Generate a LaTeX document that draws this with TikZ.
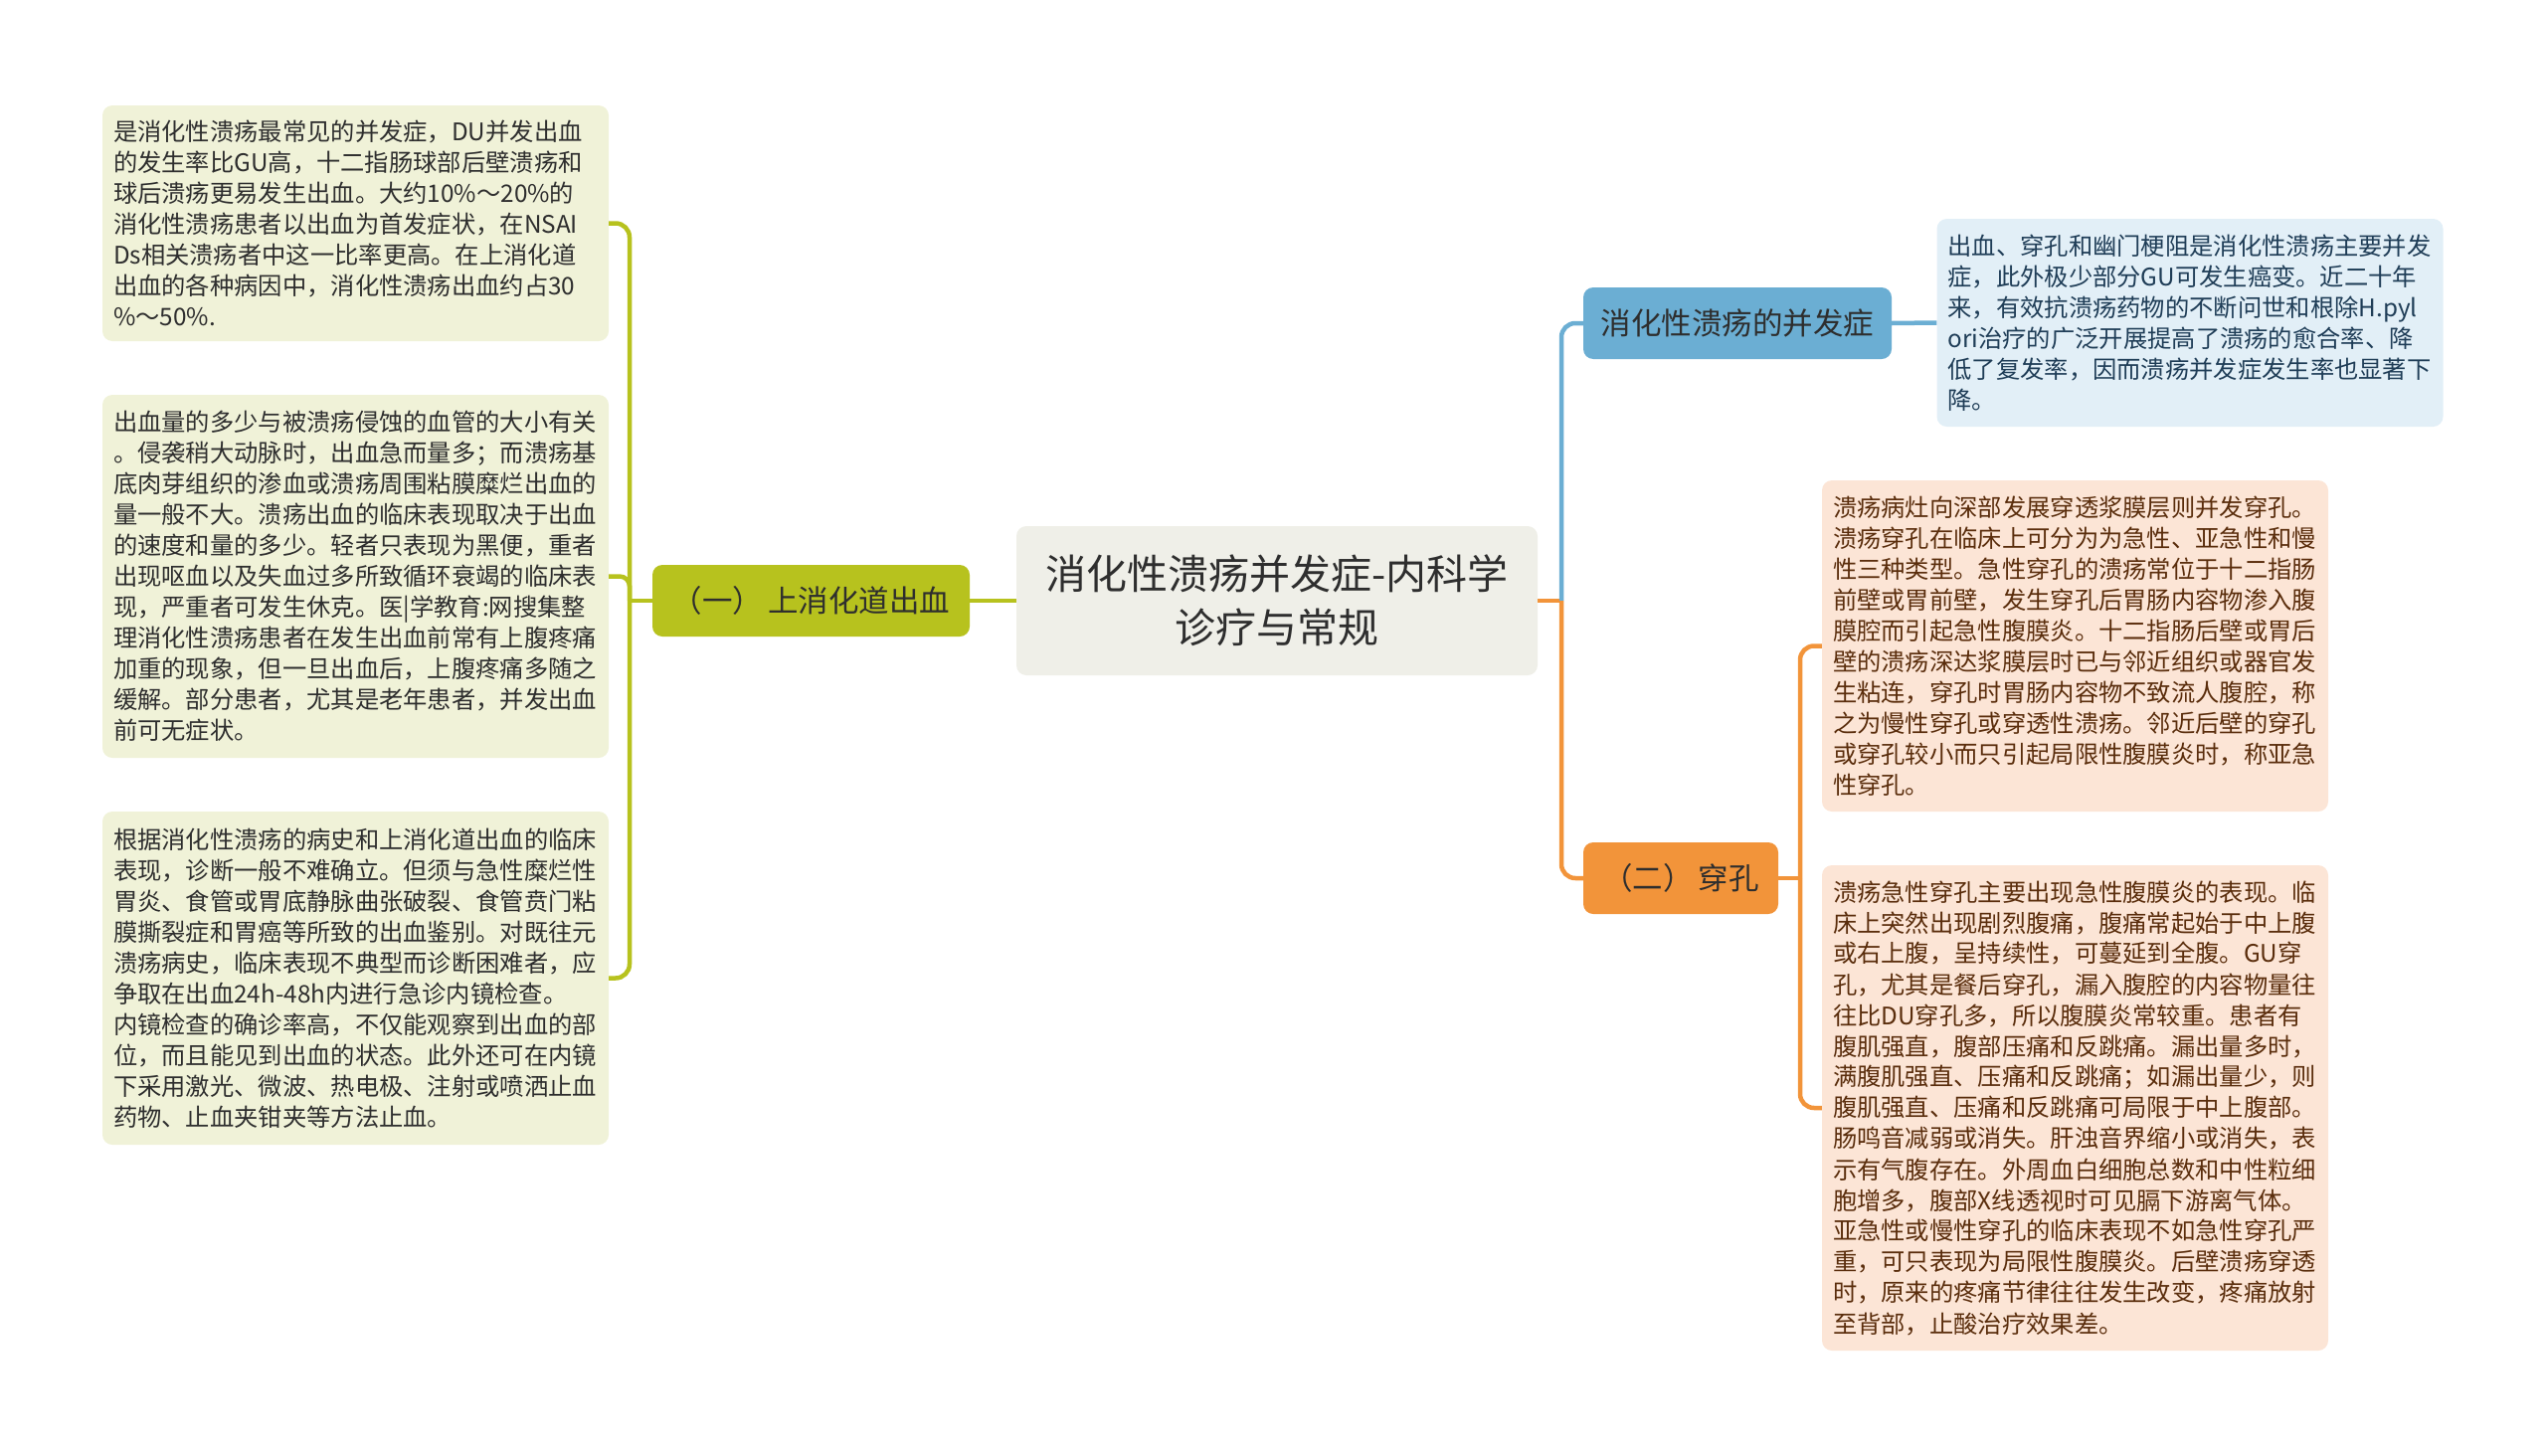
\documentclass[tikz,border=0pt]{standalone}
\usepackage{fontspec}
\setmainfont{Noto Sans CJK SC}
\definecolor{cOlive}{HTML}{B7C21E}
\definecolor{cOliveLeaf}{HTML}{F0F2D8}
\definecolor{cBlue}{HTML}{6BAED3}
\definecolor{cBlueLeaf}{HTML}{E2EFF7}
\definecolor{cBlueText}{HTML}{1F3D57}
\definecolor{cOrange}{HTML}{F2943A}
\definecolor{cOrangeLeaf}{HTML}{FCE5D6}
\definecolor{cOrangeText}{HTML}{5A2D0C}
\definecolor{cRoot}{HTML}{EFEFE8}
\definecolor{cText}{HTML}{2E2E2E}
\tikzset{
  leafbox/.style={rounded corners=10pt, inner xsep=11pt, inner ysep=0pt, text width=487pt,
    align=left, font=\fontsize{24.3pt}{31pt}\selectfont, anchor=center},
  topicbox/.style={rounded corners=10pt, inner xsep=4pt, inner ysep=0pt, minimum height=72pt,
    align=center, font=\fontsize{30.5pt}{36pt}\selectfont, text=cText, anchor=center},
  rootbox/.style={rounded corners=10pt, fill=cRoot, minimum width=524pt, minimum height=150pt,
    align=center, font=\fontsize{41pt}{54pt}\selectfont, text=cText, anchor=center},
  link/.style={line width=4.5pt},
  olivelink/.style={link, draw=cOlive},
  bluelink/.style={link, draw=cBlue},
  orangelink/.style={link, draw=cOrange},
}
\begin{document}
\begin{tikzpicture}[x=1pt,y=-1pt]
\useasboundingbox (0,0) rectangle (2560,1464);

% root
\node[rootbox] (root) at (1284,604) {消化性溃疡并发症-内科学\\诊疗与常规};

% left branch
\node[topicbox, fill=cOlive, minimum width=319pt] (t1) at (815.5,604) {（一）\,上消化道出血};

\node[leafbox, fill=cOliveLeaf, text=cText, minimum height=237pt] (l1) at (357.5,224.5) {是消化性溃疡最常见的并发症，DU并发出血\\的发生率比GU高，十二指肠球部后壁溃疡和\\球后溃疡更易发生出血。大约10\%～20\%的\\消化性溃疡患者以出血为首发症状，在NSAI\\Ds相关溃疡者中这一比率更高。在上消化道\\出血的各种病因中，消化性溃疡出血约占30\\\%～50\%.};

\node[leafbox, fill=cOliveLeaf, text=cText, minimum height=365pt] (l2) at (357.5,579.5) {出血量的多少与被溃疡侵蚀的血管的大小有关\\。侵袭稍大动脉时，出血急而量多；而溃疡基\\底肉芽组织的渗血或溃疡周围粘膜糜烂出血的\\量一般不大。溃疡出血的临床表现取决于出血\\的速度和量的多少。轻者只表现为黑便，重者\\出现呕血以及失血过多所致循环衰竭的临床表\\现，严重者可发生休克。医|学教育:网搜集整\\理消化性溃疡患者在发生出血前常有上腹疼痛\\加重的现象，但一旦出血后，上腹疼痛多随之\\缓解。部分患者，尤其是老年患者，并发出血\\前可无症状。};

\node[leafbox, fill=cOliveLeaf, text=cText, minimum height=335pt] (l3) at (357.5,983.5) {根据消化性溃疡的病史和上消化道出血的临床\\表现，诊断一般不难确立。但须与急性糜烂性\\胃炎、食管或胃底静脉曲张破裂、食管贲门粘\\膜撕裂症和胃癌等所致的出血鉴别。对既往元\\溃疡病史，临床表现不典型而诊断困难者，应\\争取在出血24h-48h内进行急诊内镜检查。\\内镜检查的确诊率高，不仅能观察到出血的部\\位，而且能见到出血的状态。此外还可在内镜\\下采用激光、微波、热电极、注射或喷洒止血\\药物、止血夹钳夹等方法止血。};

% right branch: complications
\node[topicbox, fill=cBlue, minimum width=310pt] (t2) at (1747,325) {消化性溃疡的并发症};

\node[leafbox, fill=cBlueLeaf, text=cBlueText, minimum height=209pt] (b1) at (2202,324.5) {出血、穿孔和幽门梗阻是消化性溃疡主要并发\\症，此外极少部分GU可发生癌变。近二十年\\来，有效抗溃疡药物的不断问世和根除H.pyl\\ori治疗的广泛开展提高了溃疡的愈合率、降\\低了复发率，因而溃疡并发症发生率也显著下\\降。};

% right branch: perforation
\node[topicbox, fill=cOrange, minimum width=196pt] (t3) at (1690,883) {（二）\,穿孔};

\node[leafbox, fill=cOrangeLeaf, text=cOrangeText, minimum height=333pt] (oa) at (2086.5,649.5) {溃疡病灶向深部发展穿透浆膜层则并发穿孔。\\溃疡穿孔在临床上可分为为急性、亚急性和慢\\性三种类型。急性穿孔的溃疡常位于十二指肠\\前壁或胃前壁，发生穿孔后胃肠内容物渗入腹\\膜腔而引起急性腹膜炎。十二指肠后壁或胃后\\壁的溃疡深达浆膜层时已与邻近组织或器官发\\生粘连，穿孔时胃肠内容物不致流人腹腔，称\\之为慢性穿孔或穿透性溃疡。邻近后壁的穿孔\\或穿孔较小而只引起局限性腹膜炎时，称亚急\\性穿孔。};

\node[leafbox, fill=cOrangeLeaf, text=cOrangeText, minimum height=488pt] (ob) at (2086.5,1114) {溃疡急性穿孔主要出现急性腹膜炎的表现。临\\床上突然出现剧烈腹痛，腹痛常起始于中上腹\\或右上腹，呈持续性，可蔓延到全腹。GU穿\\孔，尤其是餐后穿孔，漏入腹腔的内容物量往\\往比DU穿孔多，所以腹膜炎常较重。患者有\\腹肌强直，腹部压痛和反跳痛。漏出量多时，\\满腹肌强直、压痛和反跳痛；如漏出量少，则\\腹肌强直、压痛和反跳痛可局限于中上腹部。\\肠鸣音减弱或消失。肝浊音界缩小或消失，表\\示有气腹存在。外周血白细胞总数和中性粒细\\胞增多，腹部X线透视时可见膈下游离气体。\\亚急性或慢性穿孔的临床表现不如急性穿孔严\\重，可只表现为局限性腹膜炎。后壁溃疡穿透\\时，原来的疼痛节律往往发生改变，疼痛放射\\至背部，止酸治疗效果差。};

% connectors
\coordinate (ls) at (633,604);
\coordinate (rs) at (1570,604);
\coordinate (os) at (1810,883);

\draw[olivelink] (root.west) -- (t1.east);
\draw[olivelink] (t1.west) -- (ls);
\draw[olivelink, rounded corners=14pt] (ls) |- (l1.east);
\draw[olivelink, rounded corners=10pt] (ls) |- (l2.east);
\draw[olivelink, rounded corners=14pt] (ls) |- (l3.east);

\draw[orangelink] (root.east) -- (rs);
\draw[bluelink, rounded corners=14pt] (rs) |- (t2.west);
\draw[orangelink, rounded corners=14pt] (rs) |- (t3.west);
\draw[bluelink] (t2.east) -- (b1.west);

\draw[orangelink] (t3.east) -- (os);
\draw[orangelink, rounded corners=14pt] (os) |- (oa.west);
\draw[orangelink, rounded corners=14pt] (os) |- (ob.west);
\end{tikzpicture}
\end{document}
